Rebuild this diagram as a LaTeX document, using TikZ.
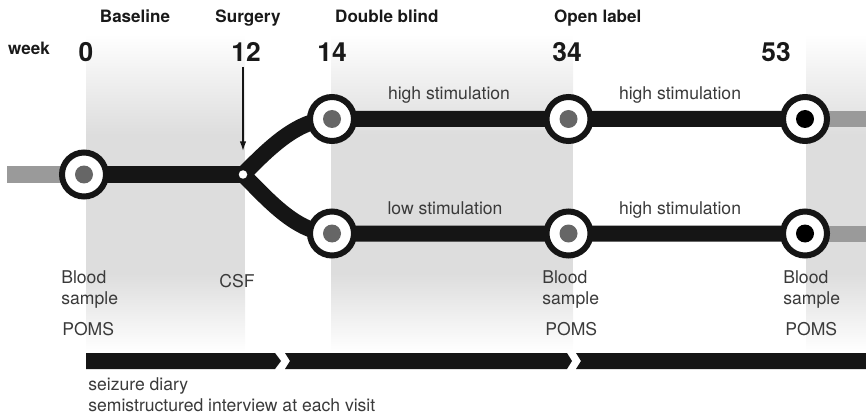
\documentclass[tikz,border=0pt]{standalone}
\usepackage{fontspec}
\setmainfont{TeX Gyre Heros}
\usetikzlibrary{arrows.meta, positioning, backgrounds}
\definecolor{mTrack}{HTML}{151515}
\definecolor{mStub}{HTML}{9A9A9A}
\definecolor{mDot}{HTML}{666666}
\definecolor{mBand}{HTML}{DDDDDD}
\definecolor{mText}{HTML}{3A3A3A}

\begin{document}
\begin{tikzpicture}[
    visit/.style={circle, draw=mTrack, line width=0.12cm, fill=white, minimum size=0.88cm, inner sep=0pt,
      path picture={\fill[#1] (path picture bounding box.center) circle (0.18cm);}},
    visit/.default=mDot,
    split/.style={circle, fill=white, minimum size=0.17cm, inner sep=0pt},
    track/.style={mTrack, line width=0.32cm},
    stub/.style={mStub, line width=0.32cm},
    pointer/.style={mTrack, line width=0.75pt, -{Latex[length=1.9mm, width=1.3mm]}, shorten >=0.38cm},
    head/.style={text=black!90, font=\fontsize{9.7}{11}\selectfont\bfseries, anchor=base},
    wk/.style={text=black!90, font=\fontsize{15}{17}\selectfont\bfseries, anchor=base},
    note/.style={text=mText, font=\fontsize{10}{11.4}\selectfont, align=left, anchor=base west, inner sep=0pt},
    stim/.style={text=mText, font=\fontsize{10}{11.4}\selectfont, anchor=base}]
  \useasboundingbox (0,0) rectangle (17.32,8.28);

  % stations
  \node[visit] (n0) at (1.68,4.79) {};
  \node[split] (j) at (4.86,4.79) {};
  \node[visit] (t14) at (6.64,5.90) {};
  \node[visit] (b14) at (6.64,3.61) {};
  \node[visit] (t34) at (11.37,5.90) {};
  \node[visit] (b34) at (11.37,3.61) {};
  \node[visit=black] (t53) at (16.10,5.90) {};
  \node[visit=black] (b53) at (16.10,3.61) {};
  \coordinate (lend) at (0.14,4.79);
  \coordinate (rtop) at (17.32,5.90);
  \coordinate (rbot) at (17.32,3.61);
  \coordinate (surg) at (4.86,6.94);

  \begin{scope}[on background layer]
    \foreach \xa/\xb in {1.72/4.90, 6.62/11.46, 16.12/17.32} {
      \shade[top color=white, bottom color=mBand] (\xa,7.6) rectangle (\xb,5.59);
      \fill[mBand] (\xa,5.6) rectangle (\xb,2.8);
      \shade[top color=mBand, bottom color=white] (\xa,2.81) rectangle (\xb,1.25);
    }
    \draw[stub] (lend) -- (n0.center);
    \draw[track] (n0.center) -- (j.center);
    \draw[track] (j.center) .. controls +(0.5,0.5) and +(-0.7,0) .. (t14.center) -- (t34.center) -- (t53.center);
    \draw[track] (j.center) .. controls +(0.5,-0.5) and +(-0.7,0) .. (b14.center) -- (b34.center) -- (b53.center);
    \draw[stub] (t53.center) -- (rtop);
    \draw[stub] (b53.center) -- (rbot);
  \end{scope}
  \draw[pointer] (surg) -- (j);

  % timeline
  \node[head] (hbase) at (2.70,7.83) {Baseline};
  \node[head] (hsurg) at (4.96,7.83) {Surgery};
  \node[head, anchor=base west] (hdb) at (6.58,7.83) {Double blind};
  \node[head, anchor=base west] (hol) at (10.96,7.83) {Open label};
  \node[head] (week) at (0.58,7.18) {week};
  \node[wk] (w0) at (1.72,7.04) {0};
  \node[wk] (w12) at (4.92,7.04) {12};
  \node[wk] (w14) at (6.64,7.04) {14};
  \node[wk] (w34) at (11.34,7.04) {34};
  \node[wk] (w53) at (15.52,7.04) {53};

  \node[stim] (s1) at (8.98,6.28) {high stimulation};
  \node[stim] (s2) at (13.60,6.28) {high stimulation};
  \node[stim] (s3) at (8.90,3.99) {low stimulation};
  \node[stim] (s4) at (13.60,3.99) {high stimulation};

  \node[note] (bl0) at (1.22,2.20) {Blood\\sample};
  \node[note] (po0) at (1.24,1.58) {POMS};
  \node[note, anchor=base] (csf) at (4.74,2.54) {CSF};
  \node[note] (bl34) at (10.84,2.20) {Blood\\sample};
  \node[note] (po34) at (10.90,1.58) {POMS};
  \node[note] (bl53) at (15.66,2.20) {Blood\\sample};
  \node[note] (po53) at (15.70,1.58) {POMS};

  \fill[mTrack] (1.72,1.22) -- (5.50,1.22) -- (5.62,1.06) -- (5.50,0.90) -- (1.72,0.90) -- cycle;
  \fill[mTrack] (5.70,1.22) -- (11.34,1.22) -- (11.44,1.06) -- (11.34,0.90) -- (5.70,0.90) -- (5.80,1.06) -- cycle;
  \fill[mTrack] (11.52,1.22) -- (17.32,1.22) -- (17.32,0.90) -- (11.52,0.90) -- (11.62,1.06) -- cycle;
  \node[note] (diary) at (1.76,0.06) {seizure diary\\semistructured interview at each visit};
\end{tikzpicture}
\end{document}
